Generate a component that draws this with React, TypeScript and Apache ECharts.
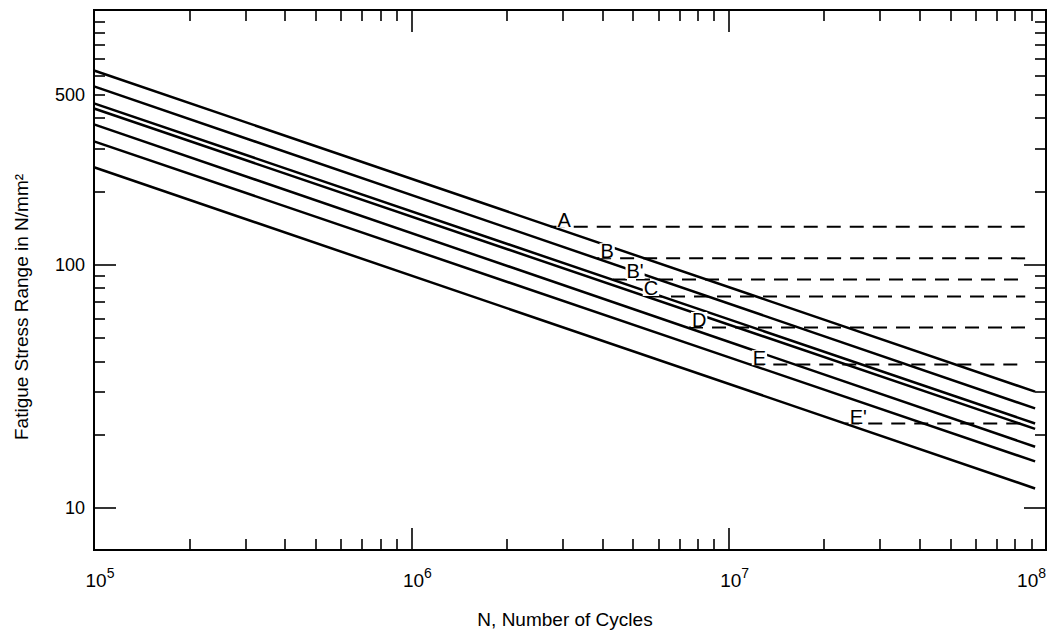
import React, { useEffect, useRef } from 'react';
import * as echarts from 'echarts';

// ---- data ----
const categories = ['A', 'B', "B'", 'C', 'D', 'E', "E'"];
const curveStartN = 1e5;
const curveEndN = 9.24e7;
const stressAtStart = [628, 540, 460, 438, 377, 321, 251];
const stressAtEnd = [30.0, 25.6, 22.2, 21.1, 17.8, 15.5, 12.0];
const thresholdStress = [143, 106, 86.7, 73.8, 55.1, 38.8, 22.2];
const thresholdStartN = [2.75e6, 3.85e6, 4.32e6, 5.57e6, 7.5e6, 1.17e7, 2.33e7];
const thresholdEndN = 8.6e7;
const labelN = [3.03e6, 4.14e6, 5.07e6, 5.69e6, 8.07e6, 1.25e7, 2.56e7];
const labelStress = [152, 114, 93.6, 79.7, 59.4, 41.4, 23.7];

// ---- axes ----
const xMin = 1e5;
const xMax = 1e8;
const yMin = 6.7;
const yMax = 1113;
const xTickLabels = [1e5, 1e6, 1e7, 1e8];
const xMajorTicks = [1e6, 1e7];
const xMinorTicks = [
  2e5, 3e5, 4e5, 5e5, 6e5, 7e5, 8e5, 9e5,
  2e6, 3e6, 4e6, 5e6, 6e6, 7e6, 8e6, 9e6,
  2e7, 3e7, 4e7, 5e7, 6e7, 7e7, 8e7, 9e7,
];
const yTickLabels = [10, 100, 500];
const yMajorTicks = [10, 100];
const yMinorTicks = [20, 30, 40, 50, 60, 70, 80, 90, 200, 300, 400, 500, 600, 700, 800, 900, 1000];

const FONT = '"Liberation Sans", Arial, Helvetica, sans-serif';
const INK = '#000';

function tickAxis(
  dim: 'x' | 'y',
  position: string,
  ticks: number[],
  length: number,
  labels?: number[],
  formatter?: (v: number) => string,
  extra?: any
) {
  const lo = dim === 'x' ? Math.log10(xMin) : Math.log10(yMin);
  const hi = dim === 'x' ? Math.log10(xMax) : Math.log10(yMax);
  return {
    type: 'value',
    position,
    min: lo,
    max: hi,
    axisLine: { show: false },
    splitLine: { show: false },
    axisTick: {
      show: true,
      inside: true,
      length,
      customValues: ticks.map((t) => Math.log10(t)),
      lineStyle: { color: INK, width: 1.6 },
    },
    axisLabel: labels
      ? {
          show: true,
          customValues: labels.map((t) => Math.log10(t)),
          formatter,
          fontFamily: FONT,
          fontSize: dim === 'x' ? 19 : 18,
          color: INK,
          margin: dim === 'x' ? 16 : 9,
          alignMaxLabel: dim === 'x' ? 'right' : undefined,
          padding: dim === 'x' ? [0, 0, 0, 12] : 0,
          rich: {
            b: { fontSize: 19, fontFamily: FONT, color: INK, lineHeight: 24, verticalAlign: 'bottom' },
            s: { fontSize: 14, fontFamily: FONT, color: INK, lineHeight: 15, verticalAlign: 'top' },
          },
        }
      : { show: false },
    ...(extra || {}),
  };
}

function buildOption() {
  const curves = categories.map((c, i) => ({
    type: 'line',
    name: c,
    xAxisIndex: 0,
    yAxisIndex: 0,
    symbol: 'none',
    silent: true,
    z: 3,
    lineStyle: { color: INK, width: 2.5 },
    data: [
      [curveStartN, stressAtStart[i]],
      [curveEndN, stressAtEnd[i]],
    ],
  }));
  const thresholds = categories.map((c, i) => ({
    type: 'line',
    name: c + ' threshold',
    xAxisIndex: 0,
    yAxisIndex: 0,
    symbol: 'none',
    silent: true,
    z: 3,
    lineStyle: { color: INK, width: 2, type: [14, 9] },
    data: [
      [thresholdStartN[i], thresholdStress[i]],
      [thresholdEndN, thresholdStress[i]],
    ],
  }));
  const labels = {
    type: 'scatter',
    xAxisIndex: 0,
    yAxisIndex: 0,
    symbolSize: 1,
    silent: true,
    z: 10,
    itemStyle: { color: 'rgba(255,255,255,0)', opacity: 1 },
    label: {
      show: true,
      position: 'inside',
      formatter: '{b}',
      fontFamily: FONT,
      fontSize: 20,
      color: INK,
      opacity: 1,
      textBorderWidth: 0,
      backgroundColor: '#fff',
      lineHeight: 15,
      padding: [0, 1],
    },
    data: categories.map((c, i) => ({ name: c, value: [labelN[i], labelStress[i]] })),
  };

  const xFmt = (v: number) => `{b|10}{s|${Math.round(v)}}`;
  const yFmt = (v: number) => String(Math.round(Math.pow(10, v)));

  return {
    animation: false,
    backgroundColor: '#fff',
    grid: {
      left: 94,
      top: 10,
      right: 12,
      bottom: 84,
      show: true,
      borderColor: INK,
      borderWidth: 2,
      backgroundColor: 'transparent',
      containLabel: false,
      outerBoundsMode: 'none',
    },
    xAxis: [
      { type: 'log', min: xMin, max: xMax, show: false },
      tickAxis('x', 'bottom', xMajorTicks, 22, xTickLabels, xFmt, {
        name: 'N, Number of Cycles',
        nameLocation: 'middle',
        nameGap: 60,
        nameTextStyle: { fontFamily: FONT, fontSize: 19, color: INK, padding: [0, 10, 0, 0] },
      }),
      tickAxis('x', 'bottom', xMinorTicks, 11),
      tickAxis('x', 'top', xMajorTicks, 22),
      tickAxis('x', 'top', xMinorTicks, 11),
    ],
    yAxis: [
      { type: 'log', min: yMin, max: yMax, show: false },
      tickAxis('y', 'left', yMajorTicks, 22, yTickLabels, yFmt),
      tickAxis('y', 'left', yMinorTicks, 11),
      tickAxis('y', 'right', yMajorTicks, 22),
      tickAxis('y', 'right', yMinorTicks, 11),
    ],
    graphic: [
      {
        type: 'text',
        x: 21,
        y: 307,
        rotation: Math.PI / 2,
        style: {
          text: 'Fatigue Stress Range in N/mm²',
          fontFamily: FONT,
          fontSize: 19,
          fill: INK,
          align: 'center',
          verticalAlign: 'middle',
          textAlign: 'center',
          textVerticalAlign: 'middle',
        },
      },
    ],
    series: [...curves, ...thresholds, labels],
  };
}

export default function App() {
  const ref = useRef<HTMLDivElement>(null);
  useEffect(() => {
    document.body.style.margin = '0';
    const chart = echarts.init(ref.current as HTMLDivElement, null, { renderer: 'svg' });
    chart.setOption(buildOption() as any);
    return () => chart.dispose();
  }, []);
  return (
    <div
      ref={ref}
      style={{ position: 'absolute', left: 0, top: 0, width: 1058, height: 634, background: '#fff' }}
    />
  );
}
